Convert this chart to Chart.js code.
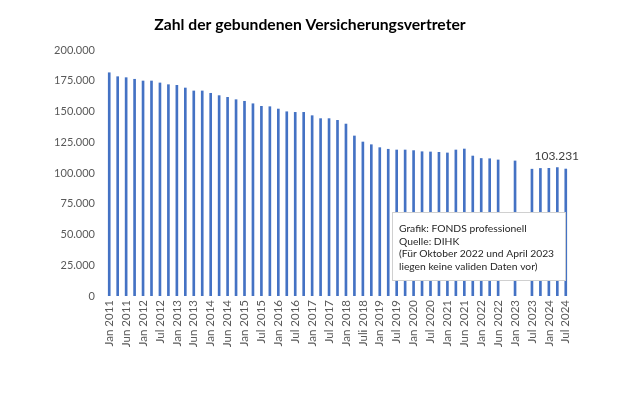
<!DOCTYPE html>
<html lang="de">
<head>
    <meta charset="UTF-8">
    <title>Zahl der gebundenen Versicherungsvertreter</title>
    <script src="https://cdn.jsdelivr.net/npm/chart.js"></script>
    <style>
        html, body { margin: 0; padding: 0; background: #fff; }
        #wrap { width: 620px; height: 413px; }
    </style>
</head>
<body>
<div id="wrap"><canvas id="myChart" width="620" height="413"></canvas></div>

<script>
    // quarterly categories, only every second one is labelled on the axis
    const categories = [
        'Jan 2011', 'Apr 2011', 'Jun 2011', 'Okt 2011',
        'Jan 2012', 'Apr 2012', 'Jul 2012', 'Okt 2012',
        'Jan 2013', 'Apr 2013', 'Jun 2013', 'Okt 2013',
        'Jan 2014', 'Apr 2014', 'Jun 2014', 'Okt 2014',
        'Jan 2015', 'Apr 2015', 'Jul 2015', 'Okt 2015',
        'Jan 2016', 'Apr 2016', 'Jul 2016', 'Okt 2016',
        'Jan 2017', 'Apr 2017', 'Jul 2017', 'Okt 2017',
        'Jan 2018', 'Apr 2018', 'Juli 2018', 'Okt 2018',
        'Jan 2019', 'Apr 2019', 'Jul 2019', 'Okt 2019',
        'Jan 2020', 'Apr 2020', 'Jul 2020', 'Okt 2020',
        'Jan 2021', 'Apr 2021', 'Jun 2021', 'Okt 2021',
        'Jan 2022', 'Apr 2022', 'Jun 2022', 'Okt 2022',
        'Jan 2023', 'Apr 2023', 'Jul 2023', 'Okt 2023',
        'Jan 2024', 'Apr 2024', 'Jul 2024'
    ];

    // Okt 2022 and Apr 2023: no valid data
    const vertreter = [
        181500, 178300, 177500, 176200,
        174800, 174800, 173200, 171800,
        171300, 169100, 166700, 166700,
        164800, 162900, 161500, 159600,
        158300, 156300, 154200, 153900,
        152000, 149800, 149300, 149300,
        146600, 144200, 144200, 142800,
        139800, 130100, 125200, 123000,
        120600, 119300, 118700, 118700,
        118200, 117300, 117100, 116800,
        116300, 118700, 119500, 113800,
        111800, 111600, 110600, null,
        109800, null, 103100, 103700,
        103800, 104400, 103231
    ];

    const yTicks = [0, 25000, 50000, 75000, 100000, 125000, 150000, 175000, 200000];

    const chartTitle = 'Zahl der gebundenen Versicherungsvertreter';

    const noteLines = [
        'Grafik: FONDS professionell',
        'Quelle: DIHK',
        '(Für Oktober 2022 und April 2023',
        'liegen keine validen Daten vor)'
    ];

    const fmt = v => v.toString().replace(/\B(?=(\d{3})+(?!\d))/g, '.');

    const FONT = 'Lato, "Open Sans", sans-serif';

    // title, note box and value label of the last bar
    const extras = {
        id: 'extras',
        afterDatasetsDraw(chart) {
            const ctx = chart.ctx;
            const meta = chart.getDatasetMeta(0);
            const last = meta.data[meta.data.length - 1];
            ctx.save();

            // title centred on the whole canvas
            ctx.font = 'bold 15.7px ' + FONT;
            ctx.fillStyle = '#000';
            ctx.textAlign = 'center';
            ctx.textBaseline = 'middle';
            ctx.fillText(chartTitle, chart.width / 2, 25);

            ctx.font = '12px ' + FONT;
            ctx.fillStyle = '#404040';
            ctx.fillText(fmt(vertreter[vertreter.length - 1]), last.x - 9, last.y - 13);

            // text box
            const a = chart.chartArea;
            const bx = a.left + 287, by = a.top + 162, bw = 173, bh = 68;
            ctx.fillStyle = '#ffffff';
            ctx.fillRect(bx, by, bw, bh);
            ctx.strokeStyle = '#d0d0d0';
            ctx.lineWidth = 1;
            ctx.strokeRect(bx + 0.5, by + 0.5, bw, bh);
            ctx.font = '10.3px ' + FONT;
            ctx.fillStyle = '#262626';
            ctx.textAlign = 'left';
            noteLines.forEach((t, i) => {
                ctx.fillText(t, bx + 7, by + 17 + i * 12.4);
            });
            ctx.restore();
        }
    };

    new Chart(document.getElementById('myChart'), {
        type: 'bar',
        data: {
            labels: categories,
            datasets: [{
                label: 'Vertreter',
                data: vertreter,
                backgroundColor: '#4472C4',
                barThickness: 2
            }]
        },
        options: {
            responsive: false,
            animation: false,
            layout: { padding: { left: 0, right: 50, top: 50, bottom: 0 } },
            plugins: {
                legend: { display: false },
                tooltip: { enabled: false },
                title: { display: false }
            },
            scales: {
                x: {
                    grid: { display: false, drawTicks: false },
                    border: { display: false },
                    ticks: {
                        autoSkip: false,
                        maxRotation: 90,
                        minRotation: 90,
                        padding: 4,
                        color: '#595959',
                        font: { family: FONT, size: 11.5 },
                        callback: (v, i) => (i % 2 === 0 ? categories[i] : '')
                    },
                    afterFit: s => { s.height = 117; }
                },
                y: {
                    min: 0,
                    max: 200000,
                    grid: { display: false, drawTicks: false },
                    border: { display: false },
                    afterBuildTicks: s => { s.ticks = yTicks.map(v => ({ value: v })); },
                    ticks: {
                        padding: 10,
                        color: '#595959',
                        font: { family: FONT, size: 11 },
                        callback: v => fmt(v)
                    },
                    afterFit: s => { s.width = 105; }
                }
            }
        },
        plugins: [extras]
    });
</script>
</body>
</html>
